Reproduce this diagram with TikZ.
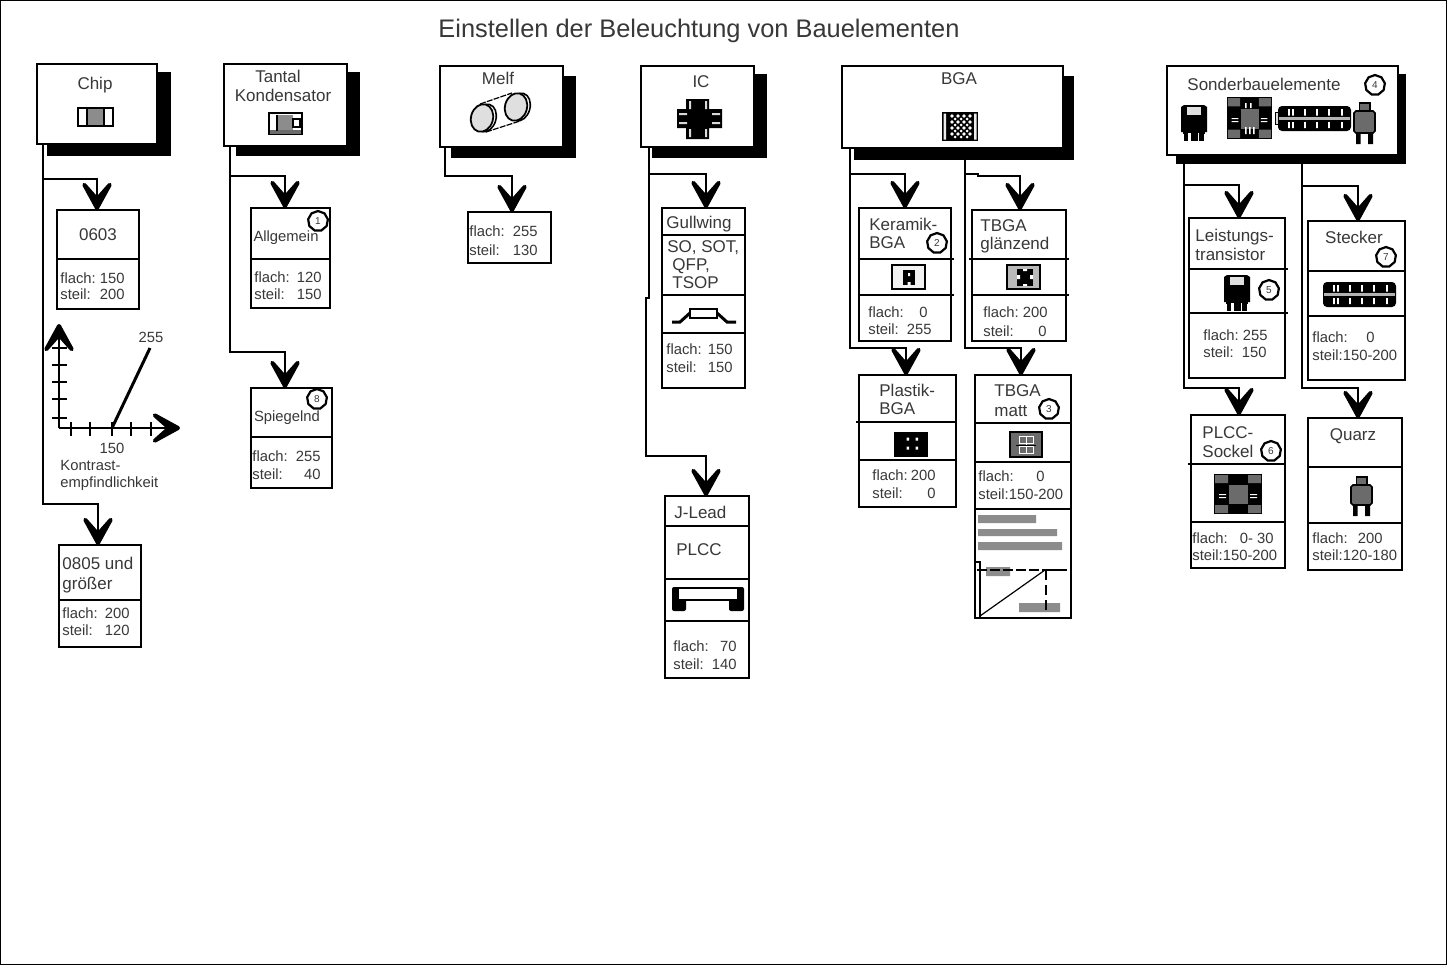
\documentclass[tikz,border=0pt]{standalone}
\usepackage{fontspec}
\setmainfont{Liberation Sans}
\usetikzlibrary{calc,arrows.meta,shapes.geometric}
\definecolor{inkc}{gray}{0.22}
\definecolor{midg}{gray}{0.55}
\definecolor{darkg}{gray}{0.42}
\newcount\tcnt
\tikzset{
  x=0.5pt,y=-0.5pt,
  frame/.style={draw=black,line width=0.9pt},
  sub/.style={draw=black,fill=white,line width=0.85pt,inner sep=0pt,outer sep=0pt},
  shadow/.style={fill=black,draw=none,inner sep=0pt,outer sep=0pt},
  dv/.style={draw=black,line width=0.85pt},
  arr/.style={draw=black,line width=0.95pt,-{Stealth[length=21pt,width=23pt,inset=13pt,line width=2.2pt,round]}},
  line/.style={draw=black,line width=0.95pt},
  lab/.style={inner sep=0pt,text=inkc,font=\fontsize{8.5}{10}\selectfont},
  val/.style={inner sep=0pt,text=inkc,font=\fontsize{7.4}{9}\selectfont},
  badge/.style={draw=black,line width=1.1pt,regular polygon,regular polygon sides=9,fill=white,inner sep=0pt,minimum size=10pt,text=inkc,font=\fontsize{5}{5}\selectfont},
  ic/.style={draw=black,line width=0.8pt},
}
\newcommand{\bx}[5]{\node[sub,minimum width={(#4-#2)*0.5pt},minimum height={(#5-#3)*0.5pt}] (#1) at ({(#2+#4)/2},{(#3+#5)/2}) {};}
\newcommand{\mainbx}[9]{% name x1 y1 x2 y2 sx1 sy1 sx2 sy2
  \node[shadow,minimum width={(#8-#6)*0.5pt},minimum height={(#9-#7)*0.5pt}] (#1s) at ({(#6+#8)/2},{(#7+#9)/2}) {};
  \node[sub,minimum width={(#4-#2)*0.5pt},minimum height={(#5-#3)*0.5pt}] (#1) at ({(#2+#4)/2},{(#3+#5)/2}) {};}
\newcommand{\dvd}[3]{\draw[dv] (#1,#3) -- (#2,#3);}
\newcommand{\tl}[4][lab]{\global\advance\tcnt 1 \node[#1,anchor=mid west] (t\the\tcnt) at (#2,#3) {#4};}
\newcommand{\tc}[4][lab]{\global\advance\tcnt 1 \node[#1,anchor=mid] (t\the\tcnt) at (#2,#3) {#4};}
\newcommand{\tr}[4][val]{\global\advance\tcnt 1 \node[#1,anchor=mid east] (t\the\tcnt) at (#2,#3) {#4};}
\newcommand{\bdg}[3]{\global\advance\tcnt 1 \node[badge] (t\the\tcnt) at (#1,#2) {#3};}
\newcommand{\cn}[4]{\draw[arr] (#1) -- ++(0,#2) -| ($(#3.north)+(#4,0)$);}
\newcommand{\trans}[2]{\begin{scope}[shift={(#1,#2)}]
  \fill[black] (0,2) -- (3,0) -- (23,0) -- (26,2) -- (26,27) -- (0,27) -- cycle;
  \fill[black] (2,27) rectangle (24,36);
  \fill[gray!25] (6,2) rectangle (20,10);
  \fill[white] (7,28) rectangle (9.5,36);
  \fill[white] (16.5,28) rectangle (18,36);
  \fill[white] (0,29) rectangle (3,36);
  \fill[white] (23,29) rectangle (26,36);
\end{scope}}
\newcommand{\sock}[4]{\begin{scope}[shift={(#1,#2)},xscale=#3/48,yscale=#4/40]
  \fill[black] (0,0) rectangle (48,40);
  \fill[darkg] (1,1) rectangle (14,9) (34,1) rectangle (47,9) (1,31) rectangle (14,39) (34,31) rectangle (47,39);
  \fill[darkg] (15,11) rectangle (34,30);
  \fill[white] (5,20) rectangle (12,21) (5,23) rectangle (12,24) (36,20) rectangle (43,21) (36,23) rectangle (43,24);
\end{scope}}
\newcommand{\stk}[2]{\begin{scope}[shift={(#1,#2)}]
  \fill[black,rounded corners=2pt] (0,0) rectangle (73,25);
  \fill[gray!60] (1,11) rectangle (72,14);
  \foreach \q in {10,14,26,38,50,63}{\fill[white] (\q,3) rectangle (\q+1.8,9.5) (\q,16) rectangle (\q+1.8,22);}
\end{scope}}
\newcommand{\quarz}[3]{\begin{scope}[shift={(#1,#2)}]
  \draw[black,line width=0.6pt,fill=darkg] (5.5,0) rectangle (16,8);
  \fill[black] (2,#3-1) rectangle (6.5,#3+11) (14,#3-1) rectangle (19,#3+11);
  \draw[black,line width=0.8pt,fill=darkg] (2,8) -- (19,8) -- (21,10) -- (21,#3-2) -- (19,#3) -- (2,#3) -- (0,#3-2) -- (0,10) -- cycle;
\end{scope}}
\begin{document}
\begin{tikzpicture}
\useasboundingbox (0,0) rectangle (1447,965);
\fill[white] (0,0) rectangle (1447,965);
\draw[frame] (0.5,0.5) rectangle (1446.5,964.5);
\node[inner sep=0pt,text=inkc,font=\fontsize{12.7}{15}\selectfont,anchor=mid] (title) at (699,32) {Einstellen der Beleuchtung von Bauelementen};

% main boxes
\mainbx{chip}{37}{64}{157}{144}{47}{72}{171}{156}
\mainbx{tantal}{224}{64}{347}{146}{236}{72}{360}{156}
\mainbx{melf}{440}{66}{563}{147}{451}{76}{576}{158}
\mainbx{icb}{641}{66}{754}{147}{652}{74}{767}{158}
\mainbx{bga}{842}{66}{1063}{148}{854}{76}{1074}{160}
\mainbx{sonder}{1167}{66}{1398}{155}{1176}{74}{1406}{164}

% leaf boxes
\bx{a0603}{57}{210}{139}{309}
\bx{allg}{251}{208}{330}{308}
\bx{spieg}{251}{388}{332}{488}
\bx{a0805}{59}{545}{141}{647}
\bx{melfv}{468}{212}{551}{263}
\bx{gull}{662}{208}{745}{388}
\bx{jlead}{665}{496}{749}{678}
\bx{keram}{859}{208}{951}{341}
\bx{tbgag}{972}{210}{1066}{341}
\bx{plast}{859}{375}{956}{507}
\bx{tbgam}{975}{375}{1071}{618}
\bx{leist}{1189}{218}{1285}{378}
\bx{steck}{1308}{221}{1405}{380}
\bx{plcc}{1191}{415}{1285}{568}
\bx{quarzb}{1308}{418}{1402}{570}

% dividers
\dvd{57}{139}{259}
\dvd{251}{330}{259}
\dvd{251}{332}{437}
\dvd{59}{141}{600}
\dvd{662}{745}{235}\dvd{662}{745}{295}\dvd{662}{745}{333}
\dvd{665}{749}{526}\dvd{665}{749}{579}\dvd{665}{749}{621}
\dvd{859}{954}{259}\dvd{859}{954}{295}
\dvd{969}{1069}{259}\dvd{972}{1069}{295}
\dvd{856}{956}{422}\dvd{859}{956}{460}
\dvd{975}{1071}{423}\dvd{975}{1071}{462}\dvd{975}{1071}{509}
\dvd{1189}{1288}{269}\dvd{1189}{1288}{313}
\dvd{1308}{1405}{271}\dvd{1308}{1405}{316}
\dvd{1188}{1285}{464}\dvd{1191}{1285}{522}
\dvd{1308}{1402}{467}\dvd{1308}{1402}{523}

% connectors
\coordinate (chipT) at (43,144);
\coordinate (tantT) at (230,146);
\coordinate (melfT) at (445,147);
\coordinate (icT) at (649,147);
\coordinate (icJ) at (649,298);
\coordinate (bgaT) at (850,148);
\coordinate (bgaU) at (965,160);
\coordinate (bgaJ) at (978,174);
\coordinate (sonT) at (1184,155);
\coordinate (sonU) at (1302,164);
\cn{chipT}{35}{a0603}{-1}
\cn{chipT}{360}{a0805}{-2}
\cn{tantT}{30}{allg}{-5.5}
\cn{tantT}{206}{spieg}{-6.5}
\cn{melfT}{29}{melfv}{2.5}
\cn{icT}{27}{gull}{2.5}
\draw[arr] (icT) -- (icJ) -- ++(-3,0) -- ++(0,158) -| ($(jlead.north)+(-1,0)$);
\cn{bgaT}{26}{keram}{0}
\cn{bgaT}{200}{plast}{-1.5}
\draw[arr] (bgaU) |- (bgaJ) -- ++(0,2) -| ($(tbgag.north)+(1,0)$);
\cn{bgaU}{188}{tbgam}{-2}
\cn{sonT}{30}{leist}{2}
\cn{sonT}{233}{plcc}{1}
\cn{sonU}{22}{steck}{1.5}
\cn{sonU}{224}{quarzb}{3}

% header labels
\tc{95}{84}{Chip}
\tc{278}{77}{Tantal}
\tc{283}{96}{Kondensator}
\tc{498}{79}{Melf}
\tc{701}{82}{IC}
\tc{959}{79}{BGA}
\tc{1264}{85}{Sonderbauelemente}

% chip column
\tc{98}{235}{0603}
\tl[val]{60}{278}{flach:}\tr{125}{278}{150}
\tl[val]{60}{294}{steil:}\tr{125}{294}{200}
\tl{62}{564}{0805 und}
\tl{62}{584}{größer}
\tl[val]{62}{613}{flach:}\tr{130}{613}{200}
\tl[val]{62}{630}{steil:}\tr{130}{630}{120}

% contrast chart
\coordinate (org) at (59,428);
\draw[arr] (org) -- ($(org)+(0,-104)$);
\draw[arr] (org) -- ($(org)+(121,0)$);
\foreach \q in {348,365,382,399,418}{\draw[line] (52,\q) -- (67,\q);}
\foreach \q in {71,90,112,131,151}{\draw[line] (\q,422) -- (\q,436);}
\draw[black,line width=1.5pt] (112,428) -- (150,348);
\tc[val]{151}{337}{255}
\tc[val]{112}{448}{150}
\tl[val]{60}{465}{Kontrast-}
\tl[val]{60}{482}{empfindlichkeit}

% tantal column
\tc[val]{286}{236}{Allgemein}
\tl[val]{254}{277}{flach:}\tr{322}{277}{120}
\tl[val]{254}{294}{steil:}\tr{322}{294}{150}
\tc[val]{287}{416}{Spiegelnd}
\tl[val]{252}{456}{flach:}\tr{321}{456}{255}
\tl[val]{252}{474}{steil:}\tr{321}{474}{40}
\bdg{318}{221}{1}
\bdg{317}{399}{8}

% melf
\tl[val]{469}{231}{flach:}\tr{538}{231}{255}
\tl[val]{469}{250}{steil:}\tr{538}{250}{130}

% ic
\tc{699}{223}{Gullwing}
\tl{667}{247}{SO, SOT,}
\tl{672}{265}{QFP,}
\tl{672}{283}{TSOP}
\tl[val]{666}{349}{flach:}\tr{733}{349}{150}
\tl[val]{666}{367}{steil:}\tr{733}{367}{150}
\tl{674}{513}{J-Lead}
\tl{676}{550}{PLCC}
\tl[val]{673}{646}{flach:}\tr{737}{646}{70}
\tl[val]{673}{664}{steil:}\tr{737}{664}{140}

% bga
\tl{869}{225}{Keramik-}
\tl{869}{243}{BGA}
\tl[val]{868}{312}{flach:}\tr{928}{312}{0}
\tl[val]{868}{329}{steil:}\tr{932}{329}{255}
\tl{980}{226}{TBGA}
\tl{980}{244}{glänzend}
\tl[val]{983}{312}{flach:}\tr{1048}{312}{200}
\tl[val]{983}{331}{steil:}\tr{1047}{331}{0}
\tl{879}{391}{Plastik-}
\tl{879}{409}{BGA}
\tl[val]{872}{475}{flach:}\tr{936}{475}{200}
\tl[val]{872}{493}{steil:}\tr{936}{493}{0}
\tl{994}{391}{TBGA}
\tl{994}{411}{matt}
\tl[val]{978}{476}{flach:}\tr{1045}{476}{0}
\tl[val]{978}{494}{steil:150-200}
\bdg{937}{243}{2}
\bdg{1049}{409}{3}

% sonder
\tl{1195}{236}{Leistungs-}
\tl{1195}{255}{transistor}
\tl[val]{1203}{335}{flach:}\tr{1268}{335}{255}
\tl[val]{1203}{352}{steil:}\tr{1267}{352}{150}
\tc{1354}{238}{Stecker}
\tl[val]{1312}{337}{flach:}\tr{1375}{337}{0}
\tl[val]{1312}{355}{steil:150-200}
\tl{1202}{433}{PLCC-}
\tl{1202}{452}{Sockel}
\tl[val]{1192}{538}{flach:}\tr{1274}{538}{0- 30}
\tl[val]{1192}{555}{steil:150-200}
\tc{1353}{435}{Quarz}
\tl[val]{1312}{538}{flach:}\tr{1383}{538}{200}
\tl[val]{1312}{555}{steil:120-180}
\bdg{1375}{85}{4}
\bdg{1269}{290}{5}
\bdg{1271}{451}{6}
\bdg{1386}{257}{7}

% --- icons ---
% chip
\draw[ic,fill=white] (78,108) rectangle (113,126);
\fill[midg] (87,109) rectangle (104,125);
\draw[black,line width=0.7pt] (87,108) -- (87,126) (104,108) -- (104,126);
% tantal
\draw[ic,fill=white] (269,113) rectangle (302,134);
\fill[midg] (277,115) rectangle (293,130);
\fill[darkg] (270,130) rectangle (301,133.5);
\draw[black,line width=0.7pt] (277,115) -- (277,131);
\draw[black,line width=0.7pt,fill=white] (293,119) rectangle (300,127);
% melf
\draw[black,line width=0.6pt,dash pattern=on 3pt off 0.6pt] (480,104) -- (512,93) (486,132) -- (520,121);
\draw[black,line width=0.8pt,fill=white,rotate around={-15:(520,107)}] (520,107) ellipse (10 and 14);
\draw[black,line width=0.9pt,fill=gray!25,rotate around={-15:(516,107)}] (516,107) ellipse (11 and 14);
\draw[black,line width=0.8pt,fill=white,rotate around={-15:(486,118)}] (486,118) ellipse (10 and 14);
\draw[black,line width=0.9pt,fill=gray!25,rotate around={-15:(482,118)}] (482,118) ellipse (11 and 14);
% ic cross
\fill[black] (686,99) rectangle (709,139) (677,109) rectangle (722,128);
\fill[gray!30] (689,101) rectangle (691,109) (705,101) rectangle (707,109)
  (689,129) rectangle (691,137) (705,129) rectangle (707,137)
  (679,113) rectangle (687,115) (679,122) rectangle (687,124)
  (712,113) rectangle (720,115) (712,122) rectangle (720,124);
% gull
\draw[black,line width=1.5pt] (672,322) -- (680,322) -- (690,313) -- (717,313) -- (727,322) -- (736,322);
\draw[ic,fill=white] (690,309) rectangle (717,318);
% plcc j-lead
\fill[black,rounded corners=1pt] (672,587) rectangle (679,609) (672,599) rectangle (686,611);
\fill[black,rounded corners=1pt] (738,587) rectangle (744,609) (729,599) rectangle (744,611);
\draw[ic,fill=white] (678,588) rectangle (738,600);
% bga
\fill[black] (942,112) rectangle (978,141);
\fill[gray!15] (943.5,113.5) rectangle (946,139.5) (974,113.5) rectangle (976.5,139.5);
\foreach \u in {950,956,962,968}{\foreach \v in {116,122,128,134}{\fill[white] (\u+2,\v) circle (1.9);}}
\foreach \u in {953,959,965}{\foreach \v in {119,125,131,137}{\fill[white] (\u+2,\v) circle (1.5);}}
% keramik
\draw[black,line width=1pt,fill=gray!10] (892,265) rectangle (925,289);
\fill[black] (903,270) rectangle (915,285);
\fill[white] (908,273) rectangle (910,276) (907.5,282) rectangle (910.5,285);
% tbga glaenzend
\draw[black,line width=1pt,fill=gray!55] (1007,265) rectangle (1040,289);
\fill[black] (1017,269) rectangle (1033,286);
\fill[white] (1017,275) rectangle (1020,279) (1030,275) rectangle (1033,279) (1023,269) rectangle (1027,271) (1023,284) rectangle (1027,286);
% plastik
\fill[black] (894,432) rectangle (928,457);
\fill[white] (906.5,437.5) rectangle (909,440.5) (915.5,437.5) rectangle (918,440.5) (906.5,446.5) rectangle (909,449.5) (915.5,446.5) rectangle (918,449.5);
% tbga matt
\draw[black,line width=1pt,fill=darkg] (1010,432) rectangle (1042,457);
\draw[white,line width=0.5pt] (1019,436.5) rectangle (1033,443) (1019,446.5) rectangle (1033,453) (1026,436.5) -- (1026,453);
\draw[black,line width=0.5pt] (1016,445) -- (1036,445);
% tbga matt inner chart
\fill[midg] (978,515) rectangle (1036,523) (978,529) rectangle (1057,536) (978,542) rectangle (1062,550) (986,567) rectangle (1010,576) (1019,603) rectangle (1060,612);
\draw[black,line width=0.7pt] (975,562) rectangle (980,618);
\draw[black,line width=0.8pt,dash pattern=on 5pt off 1.5pt] (977,570) -- (1045,570);
\draw[black,line width=0.8pt] (1045,570) -- (1067,570);
\draw[black,line width=0.6pt] (980,616) -- (1045,570);
\draw[black,line width=0.8pt,dash pattern=on 5pt off 2.5pt] (1046,570) -- (1046,613);
% sonder icons
\trans{1181}{105}
\sock{1227}{97}{45}{42}
\fill[white] (1245,103) rectangle (1246.5,108) (1250,103) rectangle (1251.5,108) (1245,127) rectangle (1246.5,134) (1249,127) rectangle (1250.5,134) (1253,127) rectangle (1254.5,134);
\draw[black,line width=0.5pt,fill=gray!30] (1275.5,112) rectangle (1279,124);
\stk{1278}{106}
\quarz{1354}{103}{30}
\trans{1224}{275}
\stk{1323}{282}
\sock{1214}{474}{48}{40}
\quarz{1351}{477}{28}
\end{tikzpicture}
\end{document}
